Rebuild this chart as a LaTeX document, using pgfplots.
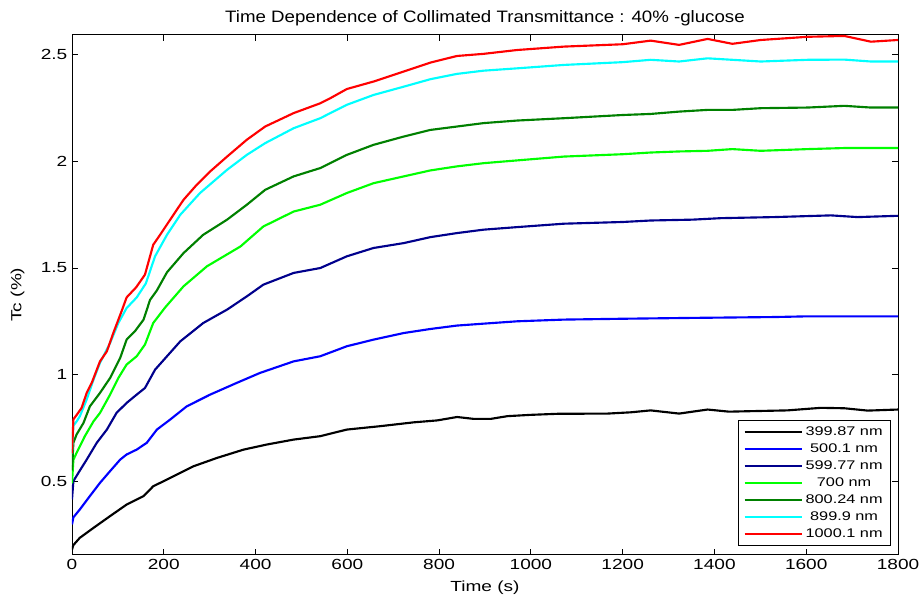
\documentclass[border=0pt]{standalone}
\usepackage{pgfplots}
\pgfplotsset{compat=1.18}
\usepackage{fontspec}
\setmainfont{Liberation Sans}[FakeStretch=1.3]
\newfontfamily\titlefont{Liberation Sans}[FakeStretch=1.13]
\definecolor{navy}{rgb}{0,0,0.55}
\definecolor{lgreen}{rgb}{0,1,0}
\definecolor{dgreen}{rgb}{0,0.5,0}
\definecolor{cyn}{rgb}{0,1,1}
\begin{document}
\begin{tikzpicture}
\begin{axis}[
  scale only axis,
  width=619.5pt, height=390pt,
  xmin=0, xmax=1800, ymin=0.155, ymax=2.595,
  xtick={0,200,...,1800},
  ytick={0.5,1,1.5,2,2.5},
  yticklabels={0.5,1,1.5,2,2.5},
  tick align=inside,
  major tick length=4.5pt,
  axis line style={line width=0.7pt},
  every tick/.style={black, line width=0.7pt},
  tick label style={font=\fontsize{11}{13}\selectfont},
  /pgf/number format/assume math mode=true,
  scaled x ticks=false,
  xticklabel style={/pgf/number format/1000 sep={}},
  title={Time Dependence of Collimated Transmittance : 40\% -glucose},
  title style={font=\titlefont\fontsize{12.4}{14}\selectfont, yshift=-3pt},
  xlabel={Time (s)},
  ylabel={Tc (\%)},
  label style={font=\fontsize{11}{13}\selectfont},
  xlabel style={yshift=-1.5pt},
  ylabel style={yshift=5.5pt},
  legend cell align=center,
  legend image code/.code={\draw[#1, line width=1.6pt] (0pt,0pt) -- (43pt,0pt);},
  legend style={at={(1,0)}, anchor=south east, xshift=-5.25pt, yshift=6.75pt,
    font=\fontsize{9.4}{11}\selectfont, draw=black, line width=0.6pt,
    inner xsep=4pt, inner ysep=2.5pt, row sep=0.2pt,
    nodes={inner ysep=2.2pt}},
  every axis plot/.append style={line width=1.6pt, line join=round},
]
\addplot[black] coordinates {(0,0.179)(3,0.20)(17,0.234)(47,0.281)(83,0.336)(119,0.390)(156,0.430)(177,0.476)(214,0.515)(265,0.570)(316,0.609)(374,0.648)(425,0.672)(483,0.695)(541,0.711)(599,0.742)(672,0.758)(745,0.776)(796,0.785)(839,0.801)(876,0.792)(912,0.792)(949,0.805)(999,0.811)(1058,0.816)(1167,0.817)(1218,0.823)(1261,0.832)(1323,0.817)(1385,0.836)(1432,0.826)(1472,0.828)(1559,0.832)(1632,0.844)(1683,0.842)(1734,0.831)(1800,0.836)};
\addlegendentry{399.87 nm}
\addplot[blue] coordinates {(0,0.297)(3,0.33)(17,0.367)(39,0.430)(61,0.492)(83,0.547)(105,0.601)(119,0.625)(141,0.648)(163,0.680)(185,0.742)(214,0.789)(250,0.851)(301,0.906)(359,0.961)(410,1.008)(483,1.062)(541,1.086)(599,1.133)(657,1.164)(723,1.195)(781,1.214)(839,1.230)(897,1.239)(970,1.250)(1072,1.258)(1200,1.262)(1352,1.266)(1530,1.270)(1596,1.273)(1800,1.273)};
\addlegendentry{500.1 nm}
\addplot[navy] coordinates {(0,0.414)(3,0.50)(14,0.539)(32,0.601)(54,0.680)(76,0.742)(97,0.820)(119,0.867)(141,0.906)(159,0.937)(181,1.023)(207,1.086)(236,1.156)(286,1.242)(338,1.305)(381,1.367)(417,1.422)(483,1.477)(541,1.500)(599,1.555)(657,1.594)(723,1.617)(781,1.645)(839,1.664)(897,1.680)(970,1.692)(1072,1.708)(1200,1.716)(1261,1.723)(1352,1.727)(1414,1.734)(1530,1.739)(1654,1.747)(1712,1.739)(1800,1.745)};
\addlegendentry{599.77 nm}
\addplot[lgreen] coordinates {(0,0.49)(3,0.60)(10,0.633)(28,0.711)(47,0.781)(61,0.820)(83,0.906)(101,0.984)(119,1.047)(141,1.086)(159,1.141)(177,1.242)(203,1.315)(243,1.414)(294,1.508)(367,1.601)(417,1.695)(483,1.765)(541,1.797)(599,1.852)(657,1.898)(723,1.930)(781,1.958)(839,1.977)(897,1.992)(970,2.005)(1072,2.023)(1200,2.034)(1261,2.042)(1323,2.047)(1385,2.050)(1439,2.058)(1501,2.050)(1603,2.058)(1683,2.063)(1800,2.063)};
\addlegendentry{700 nm}
\addplot[dgreen] coordinates {(0,0.55)(3,0.68)(10,0.719)(25,0.773)(39,0.851)(61,0.914)(83,0.984)(105,1.078)(119,1.164)(137,1.203)(156,1.258)(170,1.350)(185,1.395)(207,1.480)(243,1.570)(286,1.656)(338,1.727)(381,1.797)(421,1.867)(483,1.930)(541,1.969)(599,2.031)(657,2.078)(723,2.117)(781,2.148)(839,2.164)(897,2.180)(970,2.192)(1072,2.203)(1200,2.218)(1261,2.223)(1323,2.234)(1385,2.242)(1439,2.242)(1501,2.250)(1603,2.253)(1683,2.261)(1741,2.253)(1800,2.253)};
\addlegendentry{800.24 nm}
\addplot[cyn] coordinates {(0,0.63)(3,0.76)(10,0.78)(17,0.804)(32,0.883)(47,0.977)(61,1.055)(83,1.148)(101,1.242)(119,1.312)(141,1.362)(161,1.428)(181,1.555)(207,1.656)(236,1.750)(279,1.852)(338,1.961)(381,2.031)(421,2.086)(483,2.156)(541,2.203)(599,2.266)(657,2.312)(723,2.351)(781,2.386)(839,2.411)(897,2.426)(970,2.437)(1072,2.453)(1200,2.466)(1261,2.477)(1323,2.469)(1385,2.484)(1439,2.477)(1501,2.469)(1603,2.477)(1683,2.478)(1741,2.469)(1800,2.469)};
\addlegendentry{899.9 nm}
\addplot[red] coordinates {(0,0.63)(3,0.79)(10,0.81)(21,0.844)(32,0.914)(43,0.961)(61,1.062)(76,1.109)(90,1.195)(108,1.297)(119,1.362)(140,1.41)(159,1.469)(177,1.609)(192,1.656)(214,1.727)(243,1.820)(272,1.891)(301,1.953)(338,2.023)(381,2.102)(421,2.164)(483,2.227)(541,2.273)(563,2.297)(599,2.340)(657,2.375)(723,2.422)(781,2.464)(839,2.495)(897,2.505)(970,2.523)(1072,2.539)(1200,2.550)(1261,2.567)(1323,2.547)(1385,2.575)(1439,2.552)(1501,2.570)(1603,2.585)(1683,2.589)(1741,2.562)(1800,2.570)};
\addlegendentry{1000.1 nm}
\end{axis}
\pgfresetboundingbox
\path[use as bounding box] (current axis.south west) ++(-54pt,-30.75pt) rectangle ([shift={(16.5pt,26pt)}]current axis.north east);
\end{tikzpicture}
\end{document}
